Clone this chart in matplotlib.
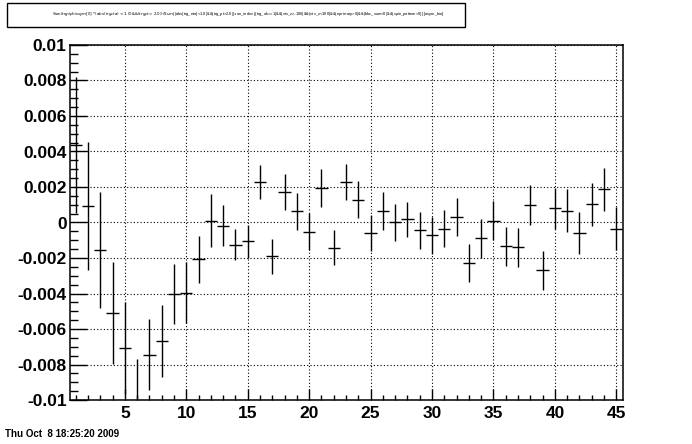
import matplotlib
matplotlib.use("Agg")
import matplotlib.pyplot as plt
from matplotlib.ticker import MultipleLocator, FixedLocator
from matplotlib.patches import Rectangle

bins = list(range(1, 46))
values = [0.00435, 0.00092, -0.00157, -0.00512, -0.00707, -0.0103, -0.00746, -0.00669,
          -0.00403, -0.00395, -0.00208, 0.00011, -0.00017, -0.00124, -0.00107,
          0.00227, -0.00191, 0.00171, 0.00062, -0.00051, 0.00193, -0.00141, 0.00227,
          0.00129, -0.00060, 0.00067, 0.00000, 0.00017, -0.00045, -0.00073,
          -0.00034, 0.00030, -0.00229, -0.00088, 0.00011, -0.00135, -0.00139,
          0.00097, -0.00270, 0.00079, 0.00067, -0.00060, 0.00103, 0.00186, -0.00034]
errors = [0.00382, 0.00360, 0.00327, 0.00287, 0.00257, 0.00260, 0.00200, 0.00204,
          0.00168, 0.00170, 0.00131, 0.00149, 0.00115, 0.00090, 0.00093,
          0.00096, 0.00098, 0.00102, 0.00105, 0.00105, 0.00106, 0.00101, 0.00100,
          0.00102, 0.00103, 0.00107, 0.00107, 0.00100, 0.00106, 0.00105,
          0.00103, 0.00106, 0.00109, 0.00110, 0.00110, 0.00109, 0.00110,
          0.00112, 0.00111, 0.00113, 0.00120, 0.00120, 0.00120, 0.00121, 0.00120]
bin_half_width = 0.5

x_major = [5, 10, 15, 20, 25, 30, 35, 40, 45]
x_labels = ["5", "10", "15", "20", "25", "30", "35", "40", "45"]
y_major = [-0.01, -0.008, -0.006, -0.004, -0.002, 0.0, 0.002, 0.004, 0.006, 0.008, 0.01]
y_labels = ["-0.01", "-0.008", "-0.006", "-0.004", "-0.002", "0", "0.002", "0.004",
            "0.006", "0.008", "0.01"]
title_text = ("Sum$(trg_dphi_asym[0]*(abs(trg_eta)<1.0)&&(trg_pt>2.0))/Sum$((abs(trg_eta)<1.0)"
              "&&(trg_pt>2.0)):run_index {(trg_ok==1)&&(vtx_z>-100)&&(vtx_z<100)&&(nprimary>0)"
              "&&(bbc_sum>0)&&(spin_pattern>0)} [asym_bin]")
date_text = "Thu Oct  8 18:25:20 2009"

W, H = 692, 444
fig = plt.figure(figsize=(W / 100, H / 100), dpi=100)
fig.patch.set_facecolor("white")
ax = fig.add_axes([69.5 / W, 1 - 400 / H, (622.5 - 69.5) / W, (400 - 45) / H])

ax.errorbar(bins, values, yerr=errors, xerr=bin_half_width, fmt="none",
            ecolor="black", elinewidth=1.0, capsize=0)

ax.set_xlim(0.5, 45.5)
ax.set_ylim(-0.01, 0.01)

ax.xaxis.set_major_locator(FixedLocator(x_major))
ax.set_xticklabels(x_labels)
ax.xaxis.set_minor_locator(MultipleLocator(1))
ax.yaxis.set_major_locator(FixedLocator(y_major))
ax.set_yticklabels(y_labels)
ax.yaxis.set_minor_locator(MultipleLocator(0.0005))

for lab in ax.get_xticklabels() + ax.get_yticklabels():
    lab.set_fontfamily("Liberation Sans")
    lab.set_fontweight("bold")
    lab.set_fontsize(12.5)

ax.tick_params(axis="y", which="major", direction="in", length=12, width=1.0, pad=2,
               left=True, right=False)
ax.tick_params(axis="y", which="minor", direction="in", length=6, width=1.0,
               left=True, right=False)
ax.tick_params(axis="x", which="major", direction="in", length=7.7, width=1.0, pad=4,
               bottom=True, top=False)
ax.tick_params(axis="x", which="minor", direction="in", length=3.8, width=1.0,
               bottom=True, top=False)

ax.grid(True, which="major", color="black", linestyle=(0, (1, 2.0)), linewidth=0.8)
for s in ax.spines.values():
    s.set_linewidth(1.1)
    s.set_color("black")

# title box
fig.add_artist(Rectangle((7 / W, 1 - 27 / H), (465 - 7) / W, (27 - 3) / H,
                         transform=fig.transFigure, facecolor="white",
                         edgecolor="black", linewidth=1.0))
fig.text(248 / W, 1 - 15 / H, title_text, ha="center", va="center", fontsize=2.9,
         family="Liberation Sans")

fig.text(5 / W, 1 - 434 / H, date_text, ha="left", va="center", fontsize=7,
         family="Liberation Sans", weight="bold")

fig.savefig("out.png", dpi=100)
